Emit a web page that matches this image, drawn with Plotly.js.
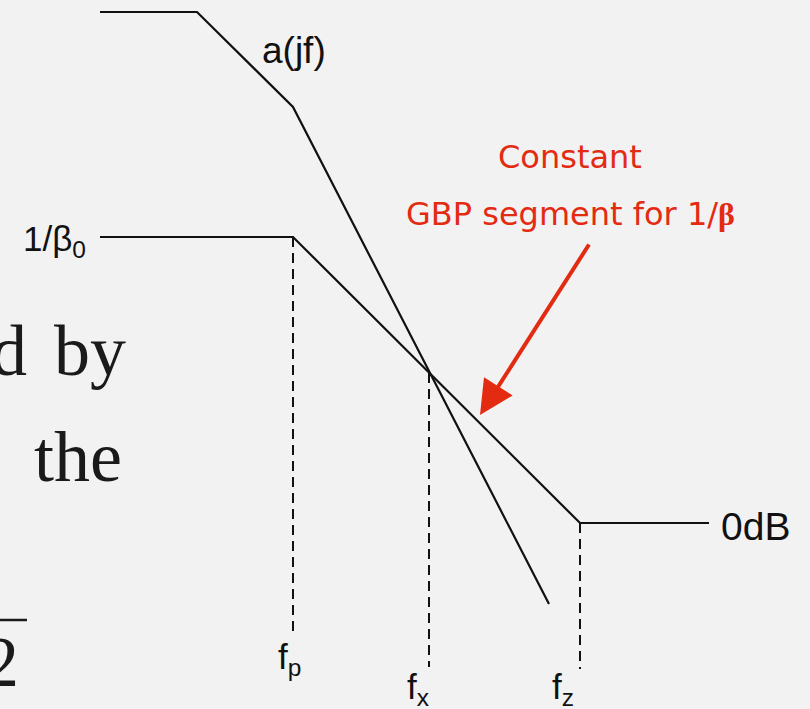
<!DOCTYPE html>
<html>
<head>
<meta charset="utf-8">
<script src="https://cdn.plot.ly/plotly-3.0.1.min.js"></script>
<style>
  html, body { margin: 0; padding: 0; background: #f2f2f2; }
  #chart { width: 810px; height: 709px; }
</style>
</head>
<body>
<div id="chart"></div>
<script>
// Open-loop gain a(jf): break points (frequency units, gain in dB-like units)
const freqA = [10.0, 19.7, 29.3, 54.9];
const gainA = [51.1, 51.1, 41.6, -8.1];
// Noise gain 1/beta
const freqB = [10.0, 29.3, 58.0, 70.9];
const gainB = [28.6, 28.6, 0.0, 0.0];
// Marker frequencies (dashed drops)
const markerNames = ['f<sub>p</sub>', 'f<sub>x</sub>', 'f<sub>z</sub>'];
const markerFreq = [29.3, 42.9, 58.0];
const markerTop = [28.6, 15.0, 0.0];
const markerBottom = [-11.4, -14.4, -14.6];

const black = '#111111';
const red = '#e32b12';

const traces = [
  { x: freqA, y: gainA, mode: 'lines', line: { color: black, width: 2.2 }, hoverinfo: 'skip' },
  { x: freqB, y: gainB, mode: 'lines', line: { color: black, width: 2.2 }, hoverinfo: 'skip' }
];
markerFreq.forEach((f, i) => {
  traces.push({
    x: [f, f], y: [markerTop[i], markerBottom[i]], mode: 'lines',
    line: { color: black, width: 2, dash: '10px,6px' }, hoverinfo: 'skip'
  });
});

const labFont = { family: 'Liberation Sans, Arial, sans-serif', color: black };
const serif = { family: 'Liberation Serif, Times New Roman, serif', color: '#1a1a1a', size: 72 };
const hand = { family: 'DejaVu Sans, sans-serif', color: red, size: 32 };

const labelPos = [[28.95, -13.6], [41.8, -16.6], [56.3, -16.6]];

const annotations = [
  { x: 29.35, y: 47.3, xref: 'x', yref: 'y', text: 'a(jf)', showarrow: false,
    font: Object.assign({ size: 37 }, labFont), xanchor: 'center', yanchor: 'middle' },
  { x: 8.8, y: 28.2, xref: 'x', yref: 'y', text: '1/β<sub>0</sub>', showarrow: false,
    font: Object.assign({ size: 35 }, labFont), xanchor: 'right', yanchor: 'middle' },
  { x: 71.9, y: -0.3, xref: 'x', yref: 'y', text: '0dB', showarrow: false,
    font: Object.assign({ size: 39 }, labFont), xanchor: 'left', yanchor: 'middle' },
  { x: 57.0, y: 36.6, xref: 'x', yref: 'y', text: 'Constant', showarrow: false,
    font: hand, xanchor: 'center', yanchor: 'middle' },
  { x: 57.0, y: 30.9, xref: 'x', yref: 'y',
    text: 'GBP segment for 1/<b><span style="font-family:Liberation Serif, serif">β</span></b>',
    showarrow: false, font: hand, xanchor: 'center', yanchor: 'middle' },
  { x: 48.0, y: 10.8, xref: 'x', yref: 'y', ax: 59.0, ay: 28.0, axref: 'x', ayref: 'y',
    text: '', showarrow: true, arrowhead: 2, arrowsize: 1.7, arrowwidth: 4, arrowcolor: red, standoff: 0 },
  // slide body text fragments on the left
  { x: 2.9, y: 17.2, xref: 'x', yref: 'y', text: 'd', showarrow: false, font: serif,
    xanchor: 'right', yanchor: 'middle' },
  { x: 5.2, y: 17.2, xref: 'x', yref: 'y', text: 'by', showarrow: false, font: serif,
    xanchor: 'left', yanchor: 'middle' },
  { x: 3.2, y: 6.6, xref: 'x', yref: 'y', text: 'the', showarrow: false, font: serif,
    xanchor: 'left', yanchor: 'middle' },
  { x: 2.1, y: -13.9, xref: 'x', yref: 'y', text: '2', showarrow: false, font: serif,
    xanchor: 'right', yanchor: 'middle' }
];
markerNames.forEach((t, i) => {
  annotations.push({ x: labelPos[i][0], y: labelPos[i][1], xref: 'x', yref: 'y', text: t,
    showarrow: false, font: Object.assign({ size: 35 }, labFont), xanchor: 'center', yanchor: 'middle' });
});

const layout = {
  width: 810, height: 709,
  margin: { l: 0, r: 0, t: 0, b: 0 },
  paper_bgcolor: '#f2f2f2', plot_bgcolor: '#f2f2f2',
  showlegend: false,
  xaxis: { range: [0, 81], visible: false, fixedrange: true },
  yaxis: { range: [-18.6, 52.3], visible: false, fixedrange: true },
  annotations: annotations,
  shapes: [
    { type: 'line', xref: 'x', yref: 'y', x0: 0, x1: 2.7, y0: -9.7, y1: -9.7,
      line: { color: '#1a1a1a', width: 2.5 } }
  ]
};

Plotly.newPlot('chart', traces, layout, { staticPlot: true, displayModeBar: false });
</script>
</body>
</html>
